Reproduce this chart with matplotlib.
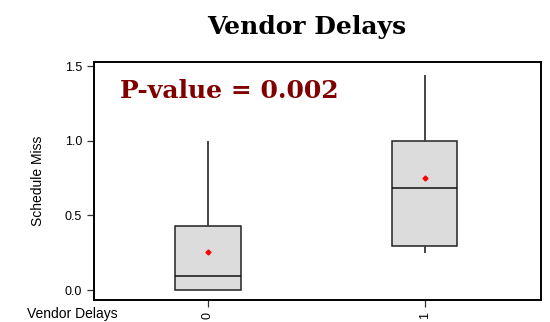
import matplotlib
matplotlib.use("Agg")
import matplotlib.pyplot as plt

# box summary per vendor-delay group
groups = ["0", "1"]
whislo = [0.0, 0.257]
q1 = [0.0, 0.295]
med = [0.094, 0.686]
q3 = [0.43, 1.0]
whishi = [0.99, 1.433]
means = [0.257, 0.75]
p_value = 0.002

fig = plt.figure(figsize=(5.5, 3.22), dpi=100)
ax = fig.add_axes([0.171, 0.0683, 0.8127, 0.7392])

stats = []
for i, g in enumerate(groups):
    stats.append(dict(label=g, whislo=whislo[i], q1=q1[i], med=med[i],
                      q3=q3[i], whishi=whishi[i], mean=means[i], fliers=[]))

ax.bxp(stats, positions=[0, 1], widths=0.3, showcaps=False, showmeans=True,
       patch_artist=True,
       boxprops=dict(facecolor="#dcdcdc", edgecolor="#222222", linewidth=1.1),
       whiskerprops=dict(color="#444444", linewidth=1.4),
       medianprops=dict(color="#111111", linewidth=1.1),
       meanprops=dict(marker="D", markersize=2.5, markerfacecolor="red",
                      markeredgecolor="red"))

ax.set_xlim(-0.525, 1.535)
ax.set_ylim(-0.067, 1.527)
ax.set_yticks([0.0, 0.5, 1.0, 1.5])
ax.set_yticklabels(["0.0", "0.5", "1.0", "1.5"], fontsize=9, family="Liberation Sans")
ax.set_xticks([0, 1])
ax.set_xticklabels(groups, rotation=90, fontsize=9, family="Liberation Sans")
ax.tick_params(axis="both", length=5, width=0.9, color="#333333")
for s in ax.spines.values():
    s.set_linewidth(1.4)

ax.set_ylabel("Schedule Miss", fontsize=10, family="Liberation Sans")
ax.yaxis.set_label_coords(-0.11, 0.5)
fig.text(0.049, 0.025, "Vendor Delays", fontsize=10, family="Liberation Sans",
         ha="left", va="center")

fig.text(0.558, 0.915, "Vendor Delays", fontsize=18, fontweight="bold",
         family="DejaVu Serif", ha="center", va="center")
ax.text(0.058, 0.88, "P-value = %.3f" % p_value, transform=ax.transAxes,
        fontsize=18, fontweight="bold", family="DejaVu Serif", color="#800000",
        ha="left", va="center")

fig.savefig("out.png", dpi=100)
